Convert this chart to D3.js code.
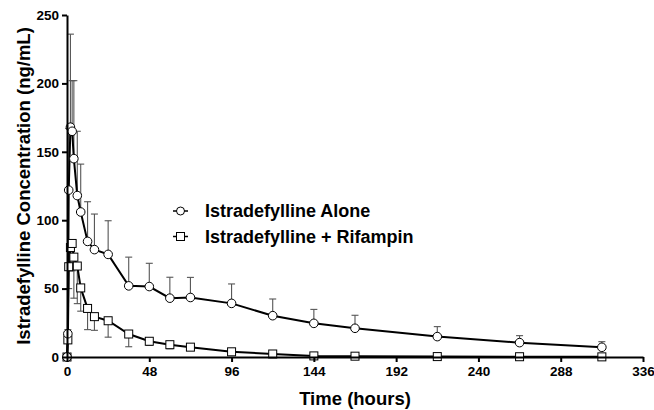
<!DOCTYPE html>
<html>
<head>
<meta charset="utf-8">
<script src="https://cdn.jsdelivr.net/npm/d3@7"></script>
<style>
  body { margin: 0; background: #fff; }
  svg text { font-family: "Liberation Sans", Arial, sans-serif; font-weight: bold; fill: #000; }
</style>
</head>
<body>
<svg id="chart" width="654" height="410"></svg>
<script>
// sampling times (hours)
var times = [0, 0.5, 1, 2, 3, 4, 6, 8, 12, 16, 24, 36, 48, 60, 72, 96, 120, 144, 168, 216, 264, 312];

// mean concentrations (ng/mL)
var aloneMean = [0, 17, 122, 168, 165, 145, 118, 106, 84.5, 78.5, 75, 52, 51.5, 43, 43.5, 39.2, 30.2, 24.6, 21, 14.9, 10.5, 7.1];
// upper SD shown for istradefylline alone
var aloneSD   = [0, 3, 45, 68, 37, 57, 47, 35, 29, 26, 24.6, 21, 17, 15.3, 14.7, 14.2, 12.2, 10.2, 9.5, 7.3, 5.1, 4.1];

var rifMean = [0, 12.5, 66, 80, 83, 73, 66.5, 50.5, 35.5, 29.5, 26.5, 16.8, 11.5, 9, 7.2, 3.8, 2.2, 0.8, 0.6, 0.3, 0.2, 0.1];
// lower SD shown for istradefylline + rifampin
var rifSD   = [0, 2, 16, 17, 20, 30, 27.5, 17, 15.5, 10, 12, 9.3, 3, 3, 2, 1.5, 1, 0.5, 0.4, 0.2, 0.1, 0.1];

var xTicks = [0, 48, 96, 144, 192, 240, 288, 336];
var yTicks = [0, 50, 100, 150, 200, 250];

var seriesNames = ['Istradefylline Alone', 'Istradefylline + Rifampin'];

var svg = d3.select('#chart');

var margin = {left: 67, top: 15, right: 11, bottom: 53};
var W = 654, H = 410;

var x = d3.scaleLinear().domain([0, 336]).range([margin.left, W - margin.right]);
var y = d3.scaleLinear().domain([0, 250]).range([H - margin.bottom, margin.top]);

var alone = times.map(function(t, i) { return {t: t, v: aloneMean[i], sd: aloneSD[i]}; });
var rif = times.map(function(t, i) { return {t: t, v: rifMean[i], sd: rifSD[i]}; });

var line = d3.line()
  .x(function(d) { return x(d.t); })
  .y(function(d) { return y(d.v); });

// error bars (alone goes up, rifampin goes down)
function errorBars(data, dir, cls) {
  var g = svg.append('g').attr('class', cls)
    .attr('stroke', '#555').attr('stroke-width', 1.1).attr('fill', 'none');
  data.forEach(function(d) {
    if (!d.sd) return;
    var end = y(d.v + dir * d.sd);
    g.append('line').attr('x1', x(d.t)).attr('x2', x(d.t))
      .attr('y1', y(d.v)).attr('y2', end);
    g.append('line').attr('x1', x(d.t) - 3.5).attr('x2', x(d.t) + 3.5)
      .attr('y1', end).attr('y2', end);
  });
}

errorBars(rif, -1, 'err-rif');
errorBars(alone, 1, 'err-alone');

svg.append('path').datum(rif).attr('d', line)
  .attr('fill', 'none').attr('stroke', '#000').attr('stroke-width', 2);
svg.append('path').datum(alone).attr('d', line)
  .attr('fill', 'none').attr('stroke', '#000').attr('stroke-width', 2);

svg.append('g').selectAll('rect').data(rif).enter().append('rect')
  .attr('x', function(d) { return x(d.t) - 4; })
  .attr('y', function(d) { return y(d.v) - 4; })
  .attr('width', 8).attr('height', 8)
  .attr('fill', '#fff').attr('stroke', '#000').attr('stroke-width', 1);

svg.append('g').selectAll('circle').data(alone).enter().append('circle')
  .attr('cx', function(d) { return x(d.t); })
  .attr('cy', function(d) { return y(d.v); })
  .attr('r', 4.3)
  .attr('fill', '#fff').attr('stroke', '#000').attr('stroke-width', 1);

// axes
var xAxis = svg.append('g')
  .attr('transform', 'translate(0,' + y(0) + ')')
  .call(d3.axisBottom(x).tickValues(xTicks).tickSize(5).tickPadding(4).tickSizeOuter(0));
var yAxis = svg.append('g')
  .attr('transform', 'translate(' + x(0) + ',0)')
  .call(d3.axisLeft(y).tickValues(yTicks).tickSize(5).tickPadding(3).tickSizeOuter(0));

[xAxis, yAxis].forEach(function(a) {
  a.select('.domain').attr('stroke', '#000').attr('stroke-width', 2);
  a.selectAll('.tick line').attr('stroke', '#000').attr('stroke-width', 2);
  a.selectAll('text').attr('font-size', 13.5).attr('font-weight', 'bold')
    .attr('font-family', '"Liberation Sans", Arial, sans-serif');
});

// titles
svg.append('text')
  .attr('x', (x(0) + x(336)) / 2).attr('y', 405)
  .attr('text-anchor', 'middle').attr('font-size', 18.5)
  .text('Time (hours)');

svg.append('text')
  .attr('transform', 'translate(24,' + ((y(0) + y(250)) / 2) + ') rotate(-90)')
  .attr('text-anchor', 'middle').attr('dy', '0.35em').attr('font-size', 18.5)
  .text('Istradefylline Concentration (ng/mL)');

// legend
var legend = svg.append('g').attr('transform', 'translate(173,211)');
seriesNames.forEach(function(name, i) {
  var row = legend.append('g').attr('transform', 'translate(0,' + (i * 25.5) + ')');
  row.append('line').attr('x1', 0).attr('x2', 15).attr('y1', 0).attr('y2', 0)
    .attr('stroke', '#000').attr('stroke-width', 1.5);
  if (i === 0) {
    row.append('circle').attr('cx', 7.5).attr('cy', 0).attr('r', 4)
      .attr('fill', '#fff').attr('stroke', '#000');
  } else {
    row.append('rect').attr('x', 3.5).attr('y', -4).attr('width', 8).attr('height', 8)
      .attr('fill', '#fff').attr('stroke', '#000');
  }
  row.append('text').attr('x', 32).attr('dy', '0.36em').attr('font-size', 18)
    .text(name);
});
</script>
</body>
</html>
